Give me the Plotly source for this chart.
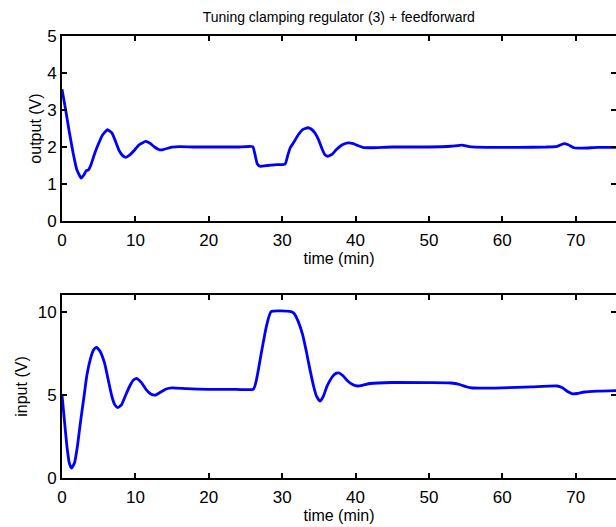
import plotly.graph_objects as go

# output (top panel)
t_out = [0, 0.5, 1.0, 1.5, 2.0, 2.6, 3.0, 3.3, 3.6, 4.0, 4.5, 5.0, 5.5, 6.2, 6.8,
         7.3, 7.8, 8.3, 8.7, 9.2, 9.8, 10.5, 11.4, 12.0, 12.6, 13.1, 13.6, 14.3,
         15.0, 16, 18, 20, 22, 24, 26.0, 26.3, 26.6, 27.0, 28, 29, 30.4, 30.8,
         31.1, 31.5, 32.2, 32.8, 33.5, 34.0, 34.5, 35.0, 35.4, 35.8, 36.2, 36.8,
         37.4, 38.2, 39.0, 39.7, 40.3, 41.0, 42, 45, 50, 53, 54.5, 55.5, 58, 62,
         66, 67.5, 68.4, 69.0, 69.8, 71, 73, 75.5]
v_out = [3.56, 3.0, 2.4, 1.85, 1.4, 1.16, 1.25, 1.36, 1.38, 1.55, 1.85, 2.1, 2.32,
         2.47, 2.38, 2.15, 1.9, 1.76, 1.72, 1.78, 1.9, 2.06, 2.15, 2.1, 2.0, 1.94,
         1.92, 1.96, 2.0, 2.01, 2.0, 2.0, 2.0, 2.0, 2.01, 1.8, 1.55, 1.48, 1.5,
         1.52, 1.54, 1.8, 1.98, 2.1, 2.33, 2.47, 2.52, 2.48, 2.37, 2.18, 1.97, 1.8,
         1.75, 1.8, 1.93, 2.06, 2.11, 2.09, 2.04, 1.99, 1.98, 2.0, 2.0, 2.02, 2.05,
         2.01, 1.99, 1.99, 2.0, 2.02, 2.09, 2.06, 1.98, 1.97, 1.99, 1.99]

# input (bottom panel)
t_in = [0, 0.3, 0.7, 1.0, 1.3, 1.7, 2.1, 2.5, 3.0, 3.4, 3.9, 4.3, 4.7, 5.2, 5.8,
        6.3, 6.8, 7.2, 7.6, 8.1, 8.6, 9.2, 9.7, 10.2, 10.8, 11.5, 12.1, 12.7,
        13.4, 14.2, 15, 17, 20, 23, 26.1, 26.5, 27.2, 27.9, 28.5, 31.2, 31.6,
        32.2, 32.8, 33.3, 33.8, 34.3, 34.7, 35.15, 35.6, 36.1, 36.7, 37.2, 37.7,
        38.3, 38.9, 39.6, 40.3, 41.0, 42, 45, 50, 53, 54.2, 55.2, 56, 60, 64,
        67.5, 68.2, 68.9, 69.6, 70.2, 71.2, 73, 75.5]
v_in = [5.0, 3.6, 1.8, 0.9, 0.6, 0.9, 1.9, 3.3, 4.9, 6.2, 7.2, 7.7, 7.85, 7.6, 6.9,
        5.9, 4.9, 4.4, 4.23, 4.4, 4.9, 5.5, 5.88, 5.98, 5.75, 5.3, 5.05, 4.98,
        5.15, 5.35, 5.42, 5.37, 5.33, 5.33, 5.35, 5.9, 7.6, 9.2, 10.0, 10.0, 9.9,
        9.4, 8.6, 7.6, 6.5, 5.5, 4.9, 4.63, 4.9, 5.5, 6.0, 6.25, 6.32, 6.15, 5.85,
        5.62, 5.53, 5.58, 5.68, 5.74, 5.73, 5.71, 5.62, 5.47, 5.41, 5.42, 5.48,
        5.53, 5.42, 5.2, 5.06, 5.08, 5.17, 5.22, 5.25]

FONT = "Liberation Sans, Arial, sans-serif"
BLUE = "rgb(0,0,255)"
XMAX = 75.5

fig = go.Figure()
fig.add_trace(go.Scatter(x=t_out, y=v_out, mode="lines", xaxis="x", yaxis="y",
                         line=dict(color=BLUE, width=2.8, shape="spline", smoothing=0.4),
                         showlegend=False))
fig.add_trace(go.Scatter(x=t_in, y=v_in, mode="lines", xaxis="x2", yaxis="y2",
                         line=dict(color=BLUE, width=2.8, shape="spline", smoothing=0.5),
                         showlegend=False))
# invisible copies so the right-hand tick axes get drawn
fig.add_trace(go.Scatter(x=t_out, y=v_out, mode="lines", xaxis="x", yaxis="y3",
                         opacity=0, hoverinfo="skip", showlegend=False))
fig.add_trace(go.Scatter(x=t_in, y=v_in, mode="lines", xaxis="x2", yaxis="y4",
                         opacity=0, hoverinfo="skip", showlegend=False))

ax = dict(showline=True, linecolor="black", linewidth=2, ticks="inside",
          ticklen=5, tickwidth=2, tickcolor="black", showgrid=False,
          zeroline=False, automargin=False,
          tickfont=dict(size=17, color="black"))

fig.update_layout(
    width=616, height=527,
    margin=dict(l=62, r=0, t=36, b=49, autoexpand=False),
    paper_bgcolor="white", plot_bgcolor="white",
    font=dict(family=FONT, color="black"),
    title=dict(text="Tuning clamping regulator (3) + feedforward",
               x=0.55, xanchor="center", y=0.968, yanchor="middle",
               font=dict(size=14)),
    xaxis=dict(ax, domain=[0, 1], range=[0, XMAX], anchor="y", mirror="ticks",
               tickvals=[0, 10, 20, 30, 40, 50, 60, 70], ticklabelstandoff=3,
               title=dict(text="time (min)", standoff=2, font=dict(size=16))),
    yaxis=dict(ax, domain=[0.5814, 1], range=[0, 5], anchor="x",
               tickvals=[0, 1, 2, 3, 4, 5],
               title=dict(text="output (V)", standoff=2, font=dict(size=16))),
    xaxis2=dict(ax, domain=[0, 1], range=[0, XMAX], anchor="y2", mirror="ticks",
                tickvals=[0, 10, 20, 30, 40, 50, 60, 70], ticklabelstandoff=3,
                title=dict(text="time (min)", standoff=2, font=dict(size=16))),
    yaxis2=dict(ax, domain=[0, 0.414], range=[0, 11], anchor="x2",
                tickvals=[0, 5, 10],
                title=dict(text="input (V)", standoff=6, font=dict(size=16))),
    yaxis3=dict(ax, overlaying="y", side="right", anchor="x", range=[0, 5],
                tickvals=[0, 1, 2, 3, 4, 5], showline=False, showticklabels=False),
    yaxis4=dict(ax, overlaying="y2", side="right", anchor="x2", range=[0, 11],
                tickvals=[0, 5, 10], showline=False, showticklabels=False),
)

# the page's default 8px body margin would shift the whole figure
fig.write_html("out.html", config={"responsive": False, "displayModeBar": False},
               post_script="document.body.style.margin='0px';")
